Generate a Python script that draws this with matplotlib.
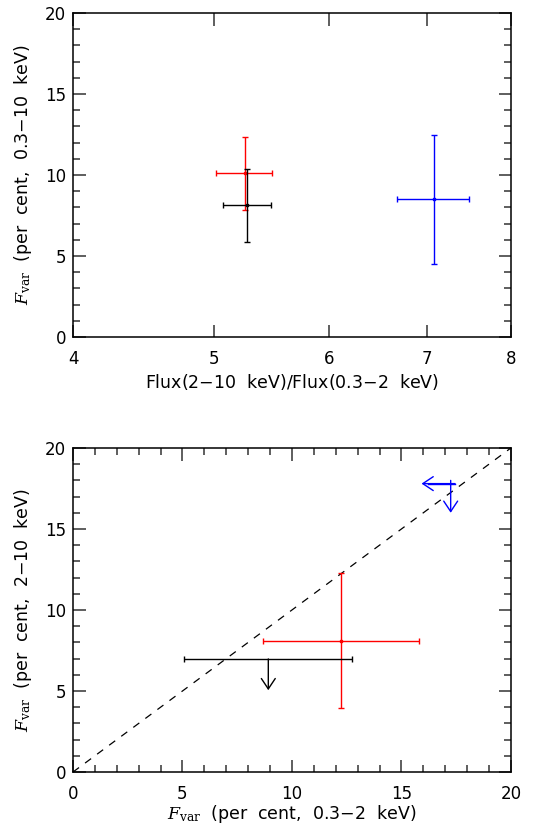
import matplotlib
matplotlib.use('Agg')
import matplotlib.pyplot as plt
from matplotlib.ticker import FixedLocator, NullLocator, MultipleLocator, FixedFormatter

plt.rcParams['font.family'] = ['DejaVu Sans']
plt.rcParams['mathtext.fontset'] = 'dejavuserif'

# Top panel: hardness ratio vs Fvar (0.3-10 keV)
ratio = [5.25, 5.27, 7.08]
ratio_lo = [5.02, 5.07, 6.68]
ratio_hi = [5.48, 5.47, 7.49]
fvar_all = [10.1, 8.15, 8.5]
fvar_all_lo = [7.85, 5.86, 4.5]
fvar_all_hi = [12.37, 10.4, 12.47]
colors = ['red', 'black', 'blue']

# Bottom panel: Fvar soft vs Fvar hard
soft_red, soft_red_lo, soft_red_hi = 12.22, 8.66, 15.81
hard_red, hard_red_lo, hard_red_hi = 8.1, 3.93, 12.27
soft_blk, soft_blk_lo, soft_blk_hi = 8.92, 5.07, 12.75
hard_blk_ul, hard_blk_arrow = 6.98, 5.05
soft_blu_ul, soft_blu_arrow = 17.25, 15.92
hard_blu_ul, hard_blu_arrow = 17.8, 16.0

fig = plt.figure(figsize=(5.46, 8.27), dpi=100)
ax1 = fig.add_axes([0.1337, 0.5925, 0.802, 0.3918])
ax2 = fig.add_axes([0.1337, 0.0665, 0.802, 0.3918])

fs = 12
lfs = 12.5
head = '->,head_length=0.75,head_width=0.5'

def style(ax):
    ax.tick_params(which='both', direction='in', top=True, right=True, labelsize=fs, width=1.1,
                   color='#333333')
    ax.tick_params(which='major', length=9)
    ax.tick_params(which='minor', length=5)
    ax.tick_params(axis='x', which='major', pad=9)
    ax.tick_params(axis='y', which='major', pad=5)
    for s in ax.spines.values():
        s.set_linewidth(1.1)

for i in range(3):
    ax1.errorbar(ratio[i], fvar_all[i],
                 xerr=[[ratio[i] - ratio_lo[i]], [ratio_hi[i] - ratio[i]]],
                 yerr=[[fvar_all[i] - fvar_all_lo[i]], [fvar_all_hi[i] - fvar_all[i]]],
                 color=colors[i], lw=1.0, capsize=2.5, capthick=1.0, fmt='none')
    ax1.plot(ratio[i], fvar_all[i], marker='s', ms=2, color=colors[i])

ax1.set_xscale('log')
ax1.set_xlim(4, 8)
ax1.set_ylim(0, 20)
ax1.xaxis.set_major_locator(FixedLocator([4, 5, 6, 7, 8]))
ax1.xaxis.set_major_formatter(FixedFormatter(['4', '5', '6', '7', '8']))
ax1.xaxis.set_minor_locator(NullLocator())
ax1.yaxis.set_major_locator(MultipleLocator(5))
ax1.yaxis.set_minor_locator(MultipleLocator(1))
style(ax1)
ax1.set_xlabel('Flux(2$-$10  keV)/Flux(0.3$-$2  keV)', fontsize=lfs, labelpad=3)
ax1.set_ylabel(r'$F_{\rm var}$  (per  cent,  0.3$-$10  keV)', fontsize=lfs, labelpad=8)

# bottom panel
ax2.plot([0, 20], [0, 20], color='black', ls=(0, (6, 6)), lw=0.9)
ax2.errorbar(soft_red, hard_red,
             xerr=[[soft_red - soft_red_lo], [soft_red_hi - soft_red]],
             yerr=[[hard_red - hard_red_lo], [hard_red_hi - hard_red]],
             color='red', lw=1.0, capsize=2.5, capthick=1.0, fmt='none')
ax2.plot(soft_red, hard_red, marker='s', ms=2, color='red')

ax2.errorbar(soft_blk, hard_blk_ul,
             xerr=[[soft_blk - soft_blk_lo], [soft_blk_hi - soft_blk]],
             color='black', lw=1.0, capsize=2.5, capthick=1.0, fmt='none')
ax2.annotate('', xy=(soft_blk, hard_blk_arrow), xytext=(soft_blk, hard_blk_ul),
             arrowprops=dict(arrowstyle=head, color='black', lw=1.0, shrinkA=0, shrinkB=0))

ax2.plot([soft_blu_arrow + 0.3, soft_blu_ul + 0.2], [hard_blu_ul, hard_blu_ul], color='blue', lw=1.0)
ax2.annotate('', xy=(soft_blu_arrow, hard_blu_ul), xytext=(soft_blu_ul + 0.2, hard_blu_ul),
             arrowprops=dict(arrowstyle=head, color='blue', lw=1.0, shrinkA=0, shrinkB=0))
ax2.annotate('', xy=(soft_blu_ul, hard_blu_arrow), xytext=(soft_blu_ul, hard_blu_ul + 0.2),
             arrowprops=dict(arrowstyle=head, color='blue', lw=1.0, shrinkA=0, shrinkB=0))

ax2.set_xlim(0, 20)
ax2.set_ylim(0, 20)
for axis in (ax2.xaxis, ax2.yaxis):
    axis.set_major_locator(MultipleLocator(5))
    axis.set_minor_locator(MultipleLocator(1))
style(ax2)
ax2.set_xlabel(r'$F_{\rm var}$  (per  cent,  0.3$-$2  keV)', fontsize=lfs, labelpad=0)
ax2.set_ylabel(r'$F_{\rm var}$  (per  cent,  2$-$10  keV)', fontsize=lfs, labelpad=8)

fig.savefig('out.png', dpi=100)
